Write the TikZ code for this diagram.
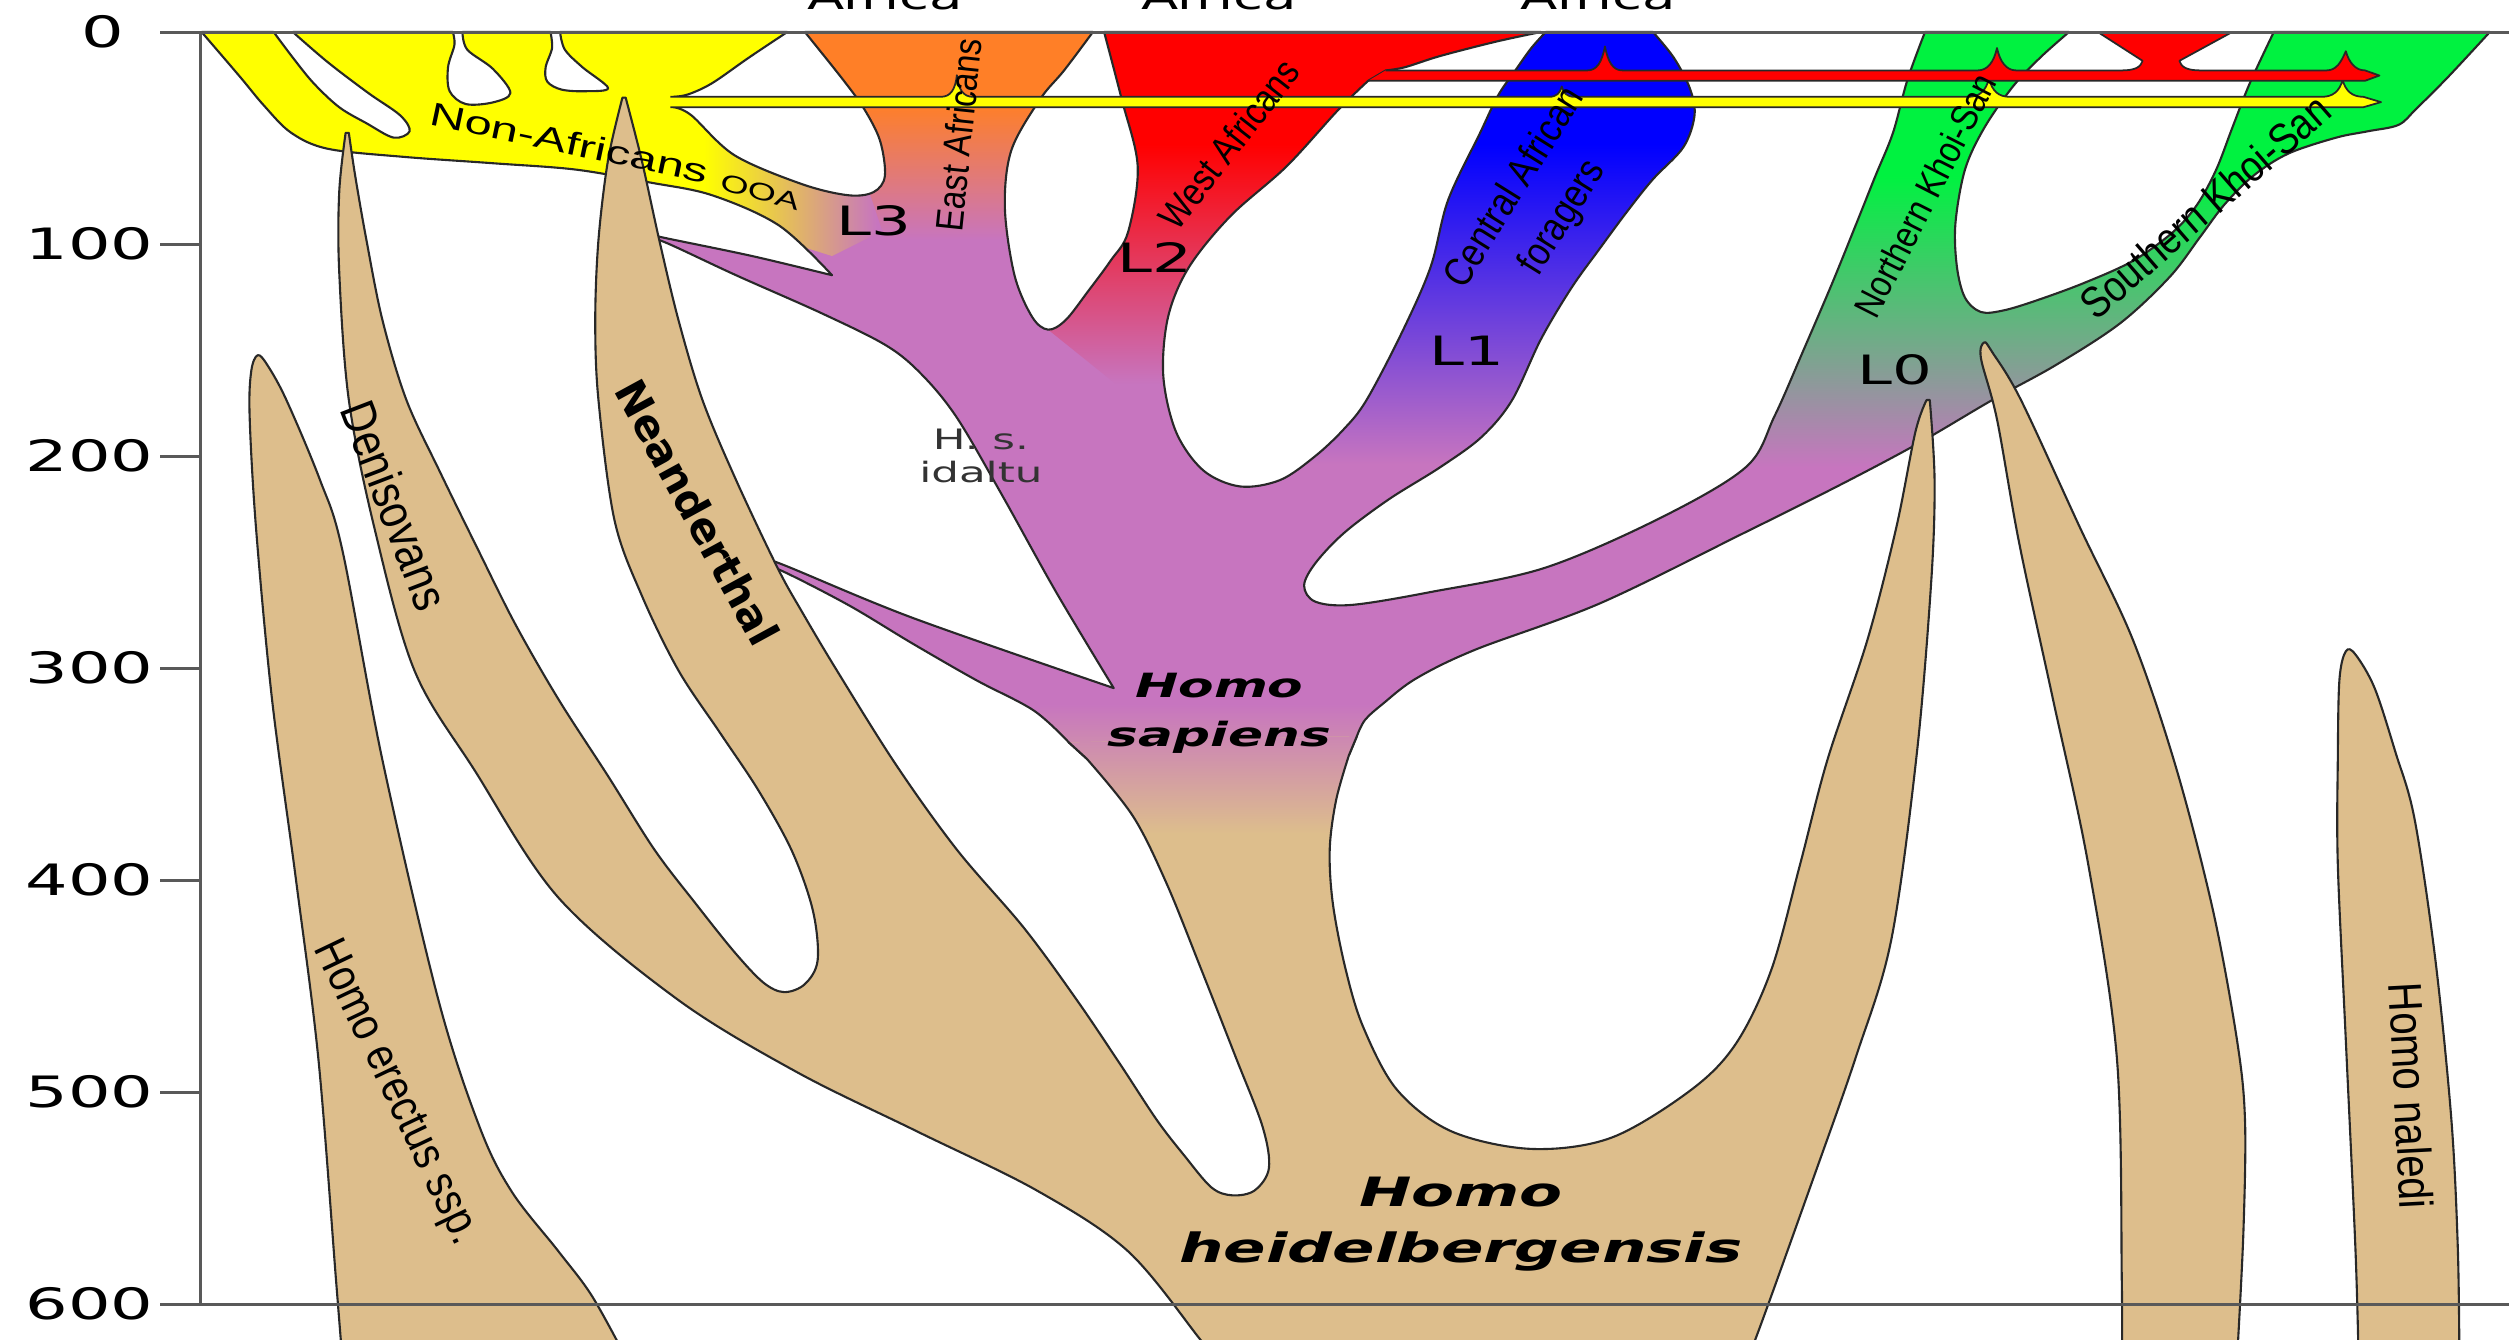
\documentclass[tikz,border=0pt]{standalone}
\usepackage{fontspec}
\setmainfont{DejaVu Sans}
\newfontfamily\widefont[FakeStretch=1.55]{DejaVu Sans}
\newfontfamily\narrowfont[FakeStretch=0.85]{Liberation Sans}
\newfontfamily\flatfont[FakeStretch=1.5]{Liberation Sans}
\usepackage{tikz}
\definecolor{ppurple}{RGB}{199,117,191}
\definecolor{ptan}{RGB}{221,190,140}
\definecolor{porange}{RGB}{255,127,39}
\definecolor{pred}{RGB}{255,0,0}
\definecolor{pblue}{RGB}{0,0,255}
\definecolor{pgreen}{RGB}{0,242,64}
\definecolor{pyellow}{RGB}{255,255,0}
\definecolor{pgrey}{RGB}{150,158,152}
\definecolor{outline}{RGB}{40,40,40}
\tikzset{
  rim/.style={draw=outline,line width=0.6pt,line join=round},
  spike/.style={rim,fill=ptan},
  sm/.style={smooth,tension=0.55},
  flow/.style={draw=outline,line width=0.5pt,line join=round},
  axisline/.style={draw=black!65,line width=0.85pt}
}
% outline of the modern human tree (open: the trunk cut is not stroked)
\newcommand{\sapienspath}{(679,474) -- (668,464)
  -- plot[sm] coordinates {(668,464) (646,444) (610,425) (570,402) (530,378) (487,356) (470,351)}
  -- (470,348)
  -- plot[sm] coordinates {(470,348) (487,352) (570,386) (696,430)}
  -- plot[sm] coordinates {(696,430) (660,370) (626,309) (598,261) (576,234) (554,216) (514,196) (460,172) (417,152) (404,148)}
  -- (404,146)
  -- plot[sm] coordinates {(404,146) (417,149) (470,160) (520,172)}
  -- plot[sm] coordinates {(520,172) (487,141) (445,122) (406,114) (360,106) (308,102) (252,98) (205,93) (182,83) (165,66) (150,48) (126,20)}
  -- (171,20)
  -- plot[sm] coordinates {(171,20) (183,36) (196,52) (212,67) (229,77) (246,86) (256,82) (250,72) (230,58) (205,39) (183,20)}
  -- (283,20)
  -- plot[sm] coordinates {(283,20) (284,28) (280,42) (281,57) (291,65) (308,64) (319,58) (308,43) (292,31) (289,20)}
  -- (344,20)
  -- plot[sm] coordinates {(344,20) (345,30) (341,42) (342,51) (351,56) (366,57) (380,55) (364,42) (353,31) (350,20)}
  -- (492,20)
  -- plot[sm] coordinates {(492,20) (468,36) (445,52) (430,59) (421,60.5)}
  -- (421,67)
  -- plot[sm] coordinates {(421,67) (432,72) (459,97) (501,115) (530,122) (546,120) (553,110) (550,88) (540,68) (527,50) (503,20)}
  -- (683,20)
  -- plot[sm] coordinates {(683,20) (665,44) (650,62) (632,94) (628,130) (634,172) (645,198) (655,206) (666,200) (680,182) (694,163) (705,145) (711,104) (701,62) (690,20)}
  -- (963,20)
  -- plot[sm] coordinates {(963,20) (935,26) (900,35) (878,42) (866,44)}
  -- (855,50.5)
  -- plot[sm] coordinates {(855,50.5) (836,69) (804,104) (769,135) (743,167) (730,198) (727,235) (735,270) (752,294) (775,304) (800,300) (822,285) (840,268) (854,250) (876,208) (894,167) (905,125) (925,83) (936,60) (947,44) (957,30) (966,20)}
  -- (1033,20)
  -- plot[sm] coordinates {(1033,20) (1046,36) (1056,55) (1059,72) (1052,92) (1033,112) (1017,132) (1000,155) (982,180) (963,212) (945,250) (926,273) (900,292) (868,312) (840,333) (822,352) (815,366) (822,376) (845,378) (894,370) (965,355) (1037,324) (1091,292) (1109,260) (1127,219) (1145,177) (1160,140) (1172,110) (1183,83) (1192,50) (1203,20)}
  -- (1293,20)
  -- plot[sm] coordinates {(1293,20) (1275,36) (1258,54) (1240,80) (1228,106) (1222,140) (1223,167) (1228,186) (1238,195) (1252,194) (1272,188) (1302,177) (1333,163) (1358,145) (1373,128) (1385,106) (1395,80) (1406,52) (1421,20)}
  -- (1556,20)
  -- plot[sm] coordinates {(1556,20) (1530,48) (1510,68) (1499,78) (1480,82) (1460,86) (1430,96) (1408,110) (1390,128) (1375,148) (1356,173) (1325,202) (1285,228) (1245,250) (1199,277) (1150,303) (1090,333) (1000,377) (922,406) (885,424) (864,440) (853,450) (848,460)}
  -- (843,472)}
% outline of the archaic body (heidelbergensis, Neanderthal, Denisovans)
\newcommand{\archaicpath}{(668,464) -- (679,474)
  -- plot[sm] coordinates {(679,474) (708,510) (729,552) (750,604) (772,660) (789,704) (793,730) (784,744) (770,747) (757,742) (740,722) (723,700) (700,665) (673,625) (640,580) (598,531) (560,478) (523,419) (501,382) (486,355) (460,300) (439,250) (424,200) (412,150) (401,100) (391,61)}
  -- plot[sm] coordinates {(389,61) (380,100) (374,150) (372,200) (374,250) (384,325) (401,372) (424,419) (450,458) (474,494) (495,532) (508,569) (511,600) (503,615) (490,620) (477,614) (459,595) (435,565) (409,531) (380,485) (349,437) (322,390) (299,344) (275,295) (254,250) (239,200) (229,150) (222,110) (218,83)}
  -- plot[sm] coordinates {(216,83) (212,120) (212,170) (218,250) (234,330) (259,419) (297,482) (349,561) (424,625) (498,670) (573,707) (648,744) (705,782) (750,837) (760,850)}
  -- (1090,850)
  -- plot[sm] coordinates {(1090,850) (1097,837) (1133,737) (1160,660) (1182,587) (1198,470) (1207,362) (1209,300) (1206,250)}
  -- plot[sm] coordinates {(1204,250) (1197,270) (1185,330) (1167,400) (1142,475) (1125,540) (1107,606) (1085,652) (1057,681) (1007,711) (957,718) (907,707) (873,681) (852,642) (841,606) (833,565) (831,531) (835,500) (843,472)}
  -- (848,460)}
\begin{document}
\begin{tikzpicture}[x=0.016cm,y=-0.016cm,
  axislabel/.style={font=\widefont\fontsize{12.3}{14}\selectfont,inner sep=0pt},
  region/.style={font=\widefont\fontsize{10}{12}\selectfont,anchor=base,inner sep=0pt},
  haplo/.style={font=\widefont\fontsize{11.5}{13}\selectfont,inner sep=0pt},
  taxon/.style={font=\widefont\bfseries\itshape\fontsize{11.5}{16}\selectfont,align=center,inner sep=0pt},
  pop/.style={font=\narrowfont\fontsize{11}{13}\selectfont,inner sep=0pt},
  archaic/.style={font=\narrowfont\fontsize{13.5}{16}\selectfont,inner sep=0pt}
]
  \useasboundingbox (0,0) rectangle (1568,837);
  \fill[white] (0,0) rectangle (1568,837);

  % Homo erectus
  \draw[spike] plot[sm] coordinates {(214,850) (210,800) (199,662) (185,550) (170,437) (160,330) (156,260) (157,232) (161,222) (167,228) (179,250) (200,300) (214,344) (239,475) (274,625) (300,705) (320,745) (349,782) (370,810) (392,850)} -- cycle;

  % modern human tree
  \begin{scope}
    \clip \sapienspath;
    \fill[ppurple] (0,0) rectangle (1600,900);
    \shade[top color=ppurple,bottom color=ptan] (650,440) rectangle (900,521);
    % Non-Africans and OOA
    \fill[pyellow] (100,0) -- (497,0) -- (497,60) -- (440,64) -- (440,135) -- (100,135) -- cycle;
    \begin{scope}
      \clip (440,60) -- (497,60) -- (540,110) -- (560,140) -- (520,160) -- (440,135) -- cycle;
      \shade[left color=pyellow,right color=ppurple] (440,60) rectangle (548,200);
    \end{scope}
    % East Africans
    \begin{scope}
      \clip (497,0) -- (686,0) -- (686,20) -- (668,100) -- (655,206) -- (560,170) -- (540,110) -- (497,60) -- cycle;
      \fill[porange] (490,0) rectangle (700,65);
      \shade[top color=porange,bottom color=ppurple] (490,65) rectangle (700,150);
    \end{scope}
    % West Africans
    \begin{scope}
      \clip (686,0) -- (965,0) -- (958,25) -- (945,40) -- (890,60) -- (827,150) -- (790,250) -- (777,304) -- (655,206) -- (668,100) -- (686,20) -- cycle;
      \fill[pred] (650,0) rectangle (970,90);
      \shade[top color=pred,bottom color=ppurple] (650,90) rectangle (970,240);
    \end{scope}
    % Central African foragers
    \begin{scope}
      \clip (965,0) -- (1110,0) -- (1080,150) -- (1000,290) -- (840,360) -- (777,304) -- (790,250) -- (827,150) -- (890,60) -- (945,40) -- (958,25) -- cycle;
      \fill[pblue] (760,0) rectangle (1110,90);
      \shade[top color=pblue,bottom color=ppurple] (760,90) rectangle (1110,290);
    \end{scope}
    % Khoi-San
    \begin{scope}
      \clip (1110,0) -- (1600,0) -- (1600,295) -- (1000,295) -- (1000,290) -- (1080,150) -- cycle;
      \fill[pgreen] (1000,0) rectangle (1600,110);
      \shade[top color=pgreen,middle color=pgrey,bottom color=ppurple] (1000,110) rectangle (1600,292);
    \end{scope}
  \end{scope}
  \draw[rim] \sapienspath;

  % archaic body
  \begin{scope}
    \clip \archaicpath;
    \fill[ptan] (0,0) rectangle (1600,900);
    \shade[top color=ppurple,bottom color=ptan] (650,440) rectangle (900,521);
  \end{scope}
  \draw[rim] \archaicpath;

  % other archaic spikes
  \draw[spike] plot[sm] coordinates {(1326,850) (1326,800) (1323,662) (1305,540) (1283,437) (1262,340) (1248,262) (1238,224) (1240,214) (1245,220) (1263,250) (1300,330) (1333,400) (1360,480) (1383,569) (1398,650) (1403,700) (1402,770) (1398,850)} -- cycle;
  \draw[spike] plot[sm] coordinates {(1474,850) (1472,780) (1466,650) (1461,540) (1461,475) (1462,425) (1466,407) (1472,409) (1484,430) (1497,470) (1509,512) (1522,600) (1532,700) (1536,780) (1537,850)} -- cycle;

  % gene flow bands
  \draw[flow,fill=pyellow] (419,60.5) -- (588,60.5) .. controls (594,60.5) and (597,56) .. (598,47)
    .. controls (599,56) and (602,60.5) .. (608,60.5) -- (968,60.5)
    .. controls (973,60.5) and (975,58) .. (976,54) .. controls (977,58) and (979,60.5) .. (984,60.5)
    -- (1230,60.5) .. controls (1237,60.5) and (1241,57) .. (1243,49)
    .. controls (1245,57) and (1249,60.5) .. (1256,60.5) -- (1451,60.5)
    .. controls (1458,60.5) and (1462,57) .. (1464,50) .. controls (1466,57) and (1470,60.5) .. (1477,60.5)
    -- (1488,63.8) -- (1477,67) -- (419,67);
  \draw[flow,fill=pred] (866,44) -- (992,44) .. controls (998,44) and (1001,39) .. (1003,29)
    .. controls (1005,39) and (1008,44) .. (1014,44) -- (1236,44)
    .. controls (1242,44) and (1246,39) .. (1248,30) .. controls (1250,39) and (1254,44) .. (1260,44)
    -- (1326,44) .. controls (1334,44) and (1338,42) .. (1339,38) -- (1311,20) -- (1395,20)
    -- (1362,38) .. controls (1363,42) and (1367,44) .. (1375,44) -- (1454,44)
    .. controls (1460,44) and (1463,39) .. (1466,32) .. controls (1468,39) and (1472,44) .. (1478,44)
    -- (1487,47.2) -- (1478,50.5) -- (855,50.5);

  % labels
  \node[region] (africa1) at (553,6) {Africa};
  \node[region] (africa2) at (762,6) {Africa};
  \node[region] (africa3) at (999,6) {Africa};
  \node[font=\flatfont\fontsize{9.3}{11}\selectfont,inner sep=0pt,rotate=-12] (nonafr) at (356,89) {Non-Africans};
  \node[font=\flatfont\fontsize{6.9}{8}\selectfont,inner sep=0pt,rotate=-15] (ooa) at (475,120) {OOA};
  \node[haplo] (lthree) at (546,138) {L3};
  \node[haplo] (ltwo) at (722,161) {L2};
  \node[haplo] (lone) at (917,219) {L1};
  \node[haplo] (lzero) at (1184,231) {L0};
  \node[pop,rotate=84] (eastafr) at (599,84) {East Africans};
  \node[pop,rotate=52] (westafr) at (768,90) {West Africans};
  \node[pop,font=\narrowfont\fontsize{11.5}{16}\selectfont,align=center,rotate=58] (central) at (962,127) {Central African\\foragers};
  \node[pop,font=\narrowfont\fontsize{10.8}{13}\selectfont,rotate=63] (northks) at (1203,122) {Northern Khoi-San};
  \node[pop,font=\narrowfont\fontsize{12.5}{14}\selectfont,rotate=41] (southks) at (1378,129) {Southern Khoi-San};
  \node[font=\widefont\fontsize{8}{9.5}\selectfont,align=center,inner sep=0pt,text=black!80] (idaltu) at (613,285) {H. s.\\idaltu};
  \node[taxon,font=\widefont\bfseries\itshape\fontsize{9.5}{14}\selectfont] (sapiens) at (762,446) {Homo\\sapiens};
  \node[taxon] (heidel) at (913,765) {Homo\\heidelbergensis};
  \node[font=\bfseries\fontsize{12}{14}\selectfont,inner sep=0pt,rotate=-61.4] (neand) at (436,320) {Neanderthal};
  \node[archaic,font=\narrowfont\fontsize{14}{16}\selectfont,rotate=-69] (denis) at (247,316) {Denisovans};
  \node[archaic,font=\narrowfont\fontsize{13.3}{16}\selectfont,rotate=-64.5] (erectus) at (247,683) {Homo erectus ssp.};
  \node[archaic,rotate=-87] (naledi) at (1507,685) {Homo naledi};

  % time axis (thousand years ago)
  \draw[axisline] (100,20) -- (1568,20);
  \draw[axisline] (100,815) -- (1568,815);
  \draw[axisline] (125,20) -- (125,815);
  \foreach \v in {100,200,300,400,500}
    \draw[axisline] (100,{20+1.325*\v}) -- (125,{20+1.325*\v});
  \node[axislabel] (tick0) at (64,20) {0};
  \foreach \v in {100,200,300,400,500,600}
    \node[axislabel] (tick\v) at (56,{20+1.325*\v}) {\v};
\end{tikzpicture}
\end{document}
